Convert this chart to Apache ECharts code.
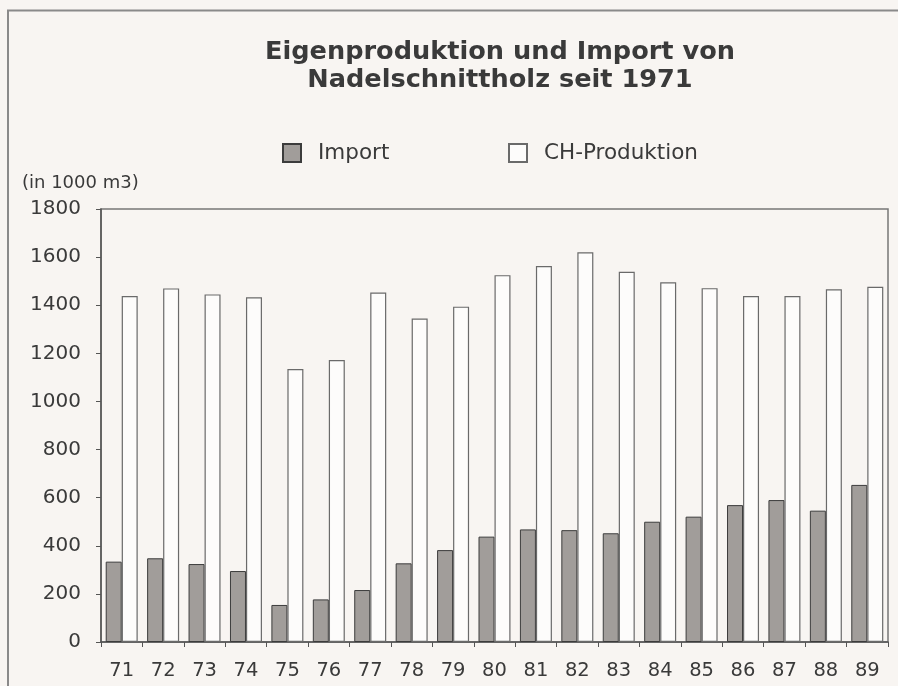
<!DOCTYPE html>
<html>
<head>
<meta charset="utf-8">
<script src="https://cdn.jsdelivr.net/npm/echarts@6/dist/echarts.min.js"></script>
<style>
  html, body { margin: 0; padding: 0; background: #f8f5f2; }
  #chart { width: 898px; height: 686px; }
</style>
</head>
<body>
<div id="chart"></div>
<script>
// years (19xx)
const years = ['71', '72', '73', '74', '75', '76', '77', '78', '79', '80',
               '81', '82', '83', '84', '85', '86', '87', '88', '89']
// in 1000 m3
const importValues = [334, 348, 324, 295, 154, 177, 216, 327, 382, 438,
                      468, 465, 452, 500, 521, 569, 590, 546, 653]
const chProduktion = [1438, 1470, 1445, 1433, 1135, 1172, 1453, 1345, 1394, 1525,
                      1563, 1620, 1539, 1495, 1471, 1438, 1438, 1466, 1477]
const yTicks = [0, 200, 400, 600, 800, 1000, 1200, 1400, 1600, 1800]

const font = '"DejaVu Sans", "Liberation Sans", Arial, sans-serif'
const textColor = '#3a3a3a'

const myChart = echarts.init(document.getElementById('chart'), null, { renderer: 'canvas' })

const legendText = { fontFamily: font, fontSize: 21.5, color: textColor, padding: [0, 0, 0, 12] }

const options = {
    backgroundColor: '#f8f5f2',
    animation: false,
    textStyle: { fontFamily: font, color: textColor },
    title: {
        text: 'Eigenproduktion und Import von\nNadelschnittholz seit 1971',
        left: 495,
        top: 33,
        textAlign: 'center',
        textStyle: {
            fontFamily: font,
            fontSize: 25.6,
            fontWeight: 'bold',
            color: textColor,
            lineHeight: 28.5
        }
    },
    legend: [
        {
            left: 277,
            top: 137,
            icon: 'rect',
            itemWidth: 18,
            itemHeight: 18,
            textStyle: legendText,
            data: ['Import']
        },
        {
            left: 503,
            top: 137,
            icon: 'rect',
            itemWidth: 18,
            itemHeight: 18,
            textStyle: legendText,
            data: ['CH-Produktion']
        }
    ],
    grid: {
        left: 101,
        right: 10,
        top: 209,
        bottom: 44,
        show: true,
        borderColor: '#777',
        borderWidth: 1.5
    },
    xAxis: {
        type: 'category',
        data: years,
        axisLine: { lineStyle: { color: '#555', width: 1.5 } },
        axisTick: { show: true, interval: 0, length: 5, lineStyle: { color: '#555' } },
        axisLabel: { fontFamily: font, fontSize: 19.5, color: textColor, margin: 19, interval: 0 }
    },
    yAxis: {
        type: 'value',
        min: 0,
        max: 1800,
        interval: 200,
        name: '(in 1000 m3)',
        nameLocation: 'end',
        nameGap: 17,
        nameTextStyle: { fontFamily: font, fontSize: 18, color: textColor, align: 'left', padding: [0, 0, 0, -79] },
        axisLine: { show: true, lineStyle: { color: '#555', width: 1.5 } },
        axisTick: { show: true, length: 5, lineStyle: { color: '#555' } },
        splitLine: { show: false },
        axisLabel: {
            fontFamily: font,
            fontSize: 20,
            color: textColor,
            margin: 20,
            formatter: v => (yTicks.includes(v) ? String(v) : '')
        }
    },
    series: [
        {
            name: 'Import',
            type: 'bar',
            data: importValues,
            barWidth: 16,
            barGap: '0%',
            itemStyle: {
                color: '#a19d9a',
                borderColor: '#3c3c3c',
                borderWidth: 1
            }
        },
        {
            name: 'CH-Produktion',
            type: 'bar',
            data: chProduktion,
            barWidth: 16,
            itemStyle: {
                color: '#fdfcfb',
                borderColor: '#6a6a6a',
                borderWidth: 1.2
            }
        }
    ],
    graphic: [
        // outer frame of the scanned figure
        {
            type: 'polyline',
            shape: { points: [[8, 686], [8, 10.5], [898, 10.5]] },
            style: { stroke: '#8a8a8a', lineWidth: 2, fill: null }
        }
    ]
}

myChart.setOption(options)
</script>
</body>
</html>
